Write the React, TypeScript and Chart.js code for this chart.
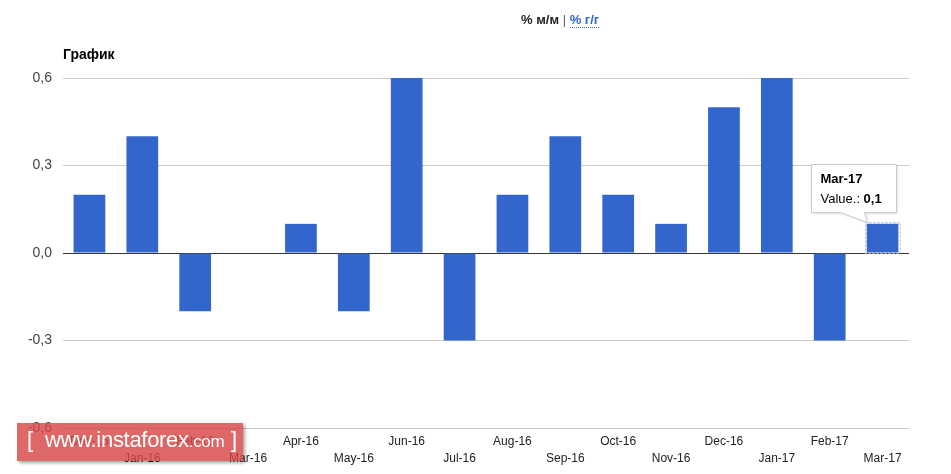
import React, { useEffect, useRef } from "react";
import { Chart, registerables } from "chart.js";

Chart.register(...registerables);

const categories = [
  "Dec-15", "Jan-16", "Feb-16", "Mar-16", "Apr-16", "May-16", "Jun-16", "Jul-16",
  "Aug-16", "Sep-16", "Oct-16", "Nov-16", "Dec-16", "Jan-17", "Feb-17", "Mar-17",
];
const values = [0.2, 0.4, -0.2, 0.0, 0.1, -0.2, 0.6, -0.3, 0.2, 0.4, 0.2, 0.1, 0.5, 0.6, -0.3, 0.1];
const yTicks = [-0.6, -0.3, 0.0, 0.3, 0.6];
const tooltipIndex = 15;

const FONT = "'Liberation Sans', Arial, sans-serif";
const fmt = (v: number) => v.toFixed(1).replace(".", ",");

const tooltipPlugin = {
  id: "staticTooltip",
  afterDraw(chart: any) {
    const meta = chart.getDatasetMeta(0);
    const el = meta.data[tooltipIndex];
    if (!el) return;
    const ctx = chart.ctx;
    const bx = el.x;
    const by = el.y;
    const bw = el.width;
    const base = el.base;
    ctx.save();
    ctx.strokeStyle = "#bbbbbb";
    ctx.lineWidth = 1;
    ctx.setLineDash([2, 2]);
    ctx.strokeRect(Math.round(bx - bw / 2) - 1.5, Math.round(by) - 1.5, Math.round(bw) + 3, Math.round(base - by) + 2);
    ctx.setLineDash([]);
    const left = Math.round(bx - 72) + 0.5;
    const right = Math.round(bx + 13) + 0.5;
    const top = Math.round(by - 60) + 0.5;
    const bottom = Math.round(by - 12) + 0.5;
    const tipX = Math.round(bx - 16) + 0.5;
    const tipY = Math.round(by - 2) + 0.5;
    ctx.shadowColor = "rgba(0,0,0,0.15)";
    ctx.shadowBlur = 3;
    ctx.shadowOffsetX = 1;
    ctx.shadowOffsetY = 1;
    ctx.beginPath();
    ctx.moveTo(left, top);
    ctx.lineTo(right, top);
    ctx.lineTo(right, bottom);
    ctx.lineTo(tipX - 3, bottom);
    ctx.lineTo(tipX, tipY);
    ctx.lineTo(tipX - 27, bottom);
    ctx.lineTo(left, bottom);
    ctx.closePath();
    ctx.fillStyle = "#ffffff";
    ctx.fill();
    ctx.shadowColor = "transparent";
    ctx.strokeStyle = "#cccccc";
    ctx.stroke();
    ctx.fillStyle = "#000000";
    ctx.textBaseline = "alphabetic";
    ctx.textAlign = "left";
    ctx.font = `bold 13px ${FONT}`;
    ctx.fillText(categories[tooltipIndex], left + 9, top + 18);
    ctx.font = `13px ${FONT}`;
    const lbl = "Value.: ";
    ctx.fillText(lbl, left + 9, top + 38);
    const w = ctx.measureText(lbl).width;
    ctx.font = `bold 13px ${FONT}`;
    ctx.fillText(fmt(values[tooltipIndex]), left + 9 + w, top + 38);
    ctx.restore();
  },
};

export default function App() {
  const canvasRef = useRef<HTMLCanvasElement | null>(null);

  useEffect(() => {
    if (!canvasRef.current) return;
    const chart = new Chart(canvasRef.current, {
      type: "bar",
      data: {
        labels: categories,
        datasets: [
          {
            data: values,
            backgroundColor: "#3366cc",
            borderWidth: 0,
            barPercentage: 0.6,
            categoryPercentage: 1,
          },
        ],
      },
      options: {
        animation: false,
        responsive: false,
        maintainAspectRatio: false,
        layout: { padding: { top: 78, right: 42, bottom: 0, left: 0 } },
        plugins: { legend: { display: false }, tooltip: { enabled: false } },
        scales: {
          x: {
            offset: true,
            grid: { display: false, drawTicks: false },
            border: { display: false },
            ticks: {
              autoSkip: false,
              maxRotation: 0,
              minRotation: 0,
              padding: 5,
              color: "#222222",
              font: { family: FONT, size: 12, lineHeight: 1.4 },
              callback: (_v: any, i: number) => (i % 2 === 0 ? [categories[i], " "] : [" ", categories[i]]),
            },
            afterFit: (s: any) => {
              s.height = 46;
            },
          },
          y: {
            min: -0.6,
            max: 0.6,
            afterBuildTicks: (s: any) => {
              s.ticks = yTicks.map((v) => ({ value: v }));
            },
            grid: {
              drawTicks: false,
              color: (c: any) => (c.tick && Math.abs(c.tick.value) < 1e-9 ? "#333333" : "#cccccc"),
              lineWidth: 1,
            },
            border: { display: false },
            ticks: {
              padding: 11,
              color: "#444444",
              font: { family: FONT, size: 14 },
              callback: (v: any) => fmt(Number(v)),
            },
            afterFit: (s: any) => {
              s.width = 63;
            },
          },
        },
      },
      plugins: [tooltipPlugin],
    });
    return () => chart.destroy();
  }, []);

  return (
    <div style={{ position: "absolute", left: 0, top: 0, width: 951, height: 474, background: "#fff", fontFamily: FONT, overflow: "hidden" }}>
      <canvas ref={canvasRef} width={951} height={474} style={{ position: "absolute", left: 0, top: 0, width: 951, height: 474 }} />
      <div style={{ position: "absolute", left: 521, top: 12, fontSize: 13, fontWeight: "bold", color: "#222", whiteSpace: "nowrap" }}>
        <span>% м/м</span>
        <span style={{ color: "#666", fontWeight: "normal" }}> | </span>
        <span style={{ color: "#3366cc", borderBottom: "1px dotted #3366cc" }}>% г/г</span>
      </div>
      <div style={{ position: "absolute", left: 63, top: 46, fontSize: 14, fontWeight: "bold", color: "#000" }}>График</div>
      <div
        style={{
          position: "absolute",
          left: 17,
          top: 423,
          width: 226,
          height: 38,
          background: "rgba(215,70,70,0.82)",
          boxShadow: "2px 2px 3px rgba(0,0,0,0.35)",
          color: "#fff",
          whiteSpace: "nowrap",
          fontFamily: "'Liberation Sans', Arial, sans-serif",
        }}
      >
        <span style={{ position: "absolute", left: 10, top: 4, fontSize: 22 }}>[</span>
        <span style={{ position: "absolute", left: 28, top: 4, fontSize: 22, letterSpacing: -0.3 }}>
          www.instaforex<span style={{ fontSize: 17 }}>.com</span>
        </span>
        <span style={{ position: "absolute", left: 214, top: 4, fontSize: 22 }}>]</span>
      </div>
    </div>
  );
}
